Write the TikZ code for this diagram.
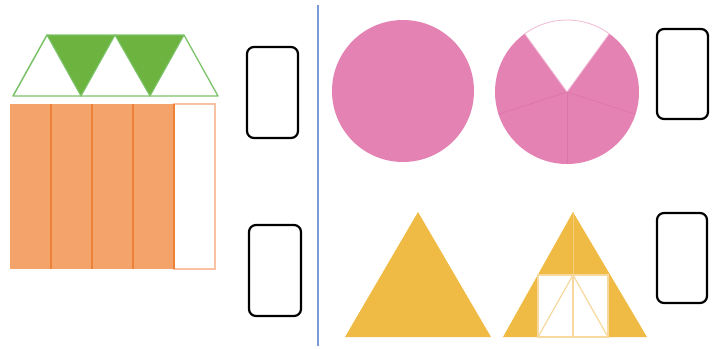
\documentclass[tikz,border=0pt]{standalone}
\begin{document}
\begin{tikzpicture}[x=1pt,y=-1pt]
\definecolor{grn}{HTML}{6DB33F}
\definecolor{grnline}{HTML}{7CC36A}
\definecolor{org}{HTML}{F4A36A}
\definecolor{orgline}{HTML}{EC8238}
\definecolor{orglight}{HTML}{F9C3A3}
\definecolor{pnk}{HTML}{E482B4}
\definecolor{pnkline}{HTML}{DC75A8}
\definecolor{pnklight}{HTML}{F2B9D4}
\definecolor{ylw}{HTML}{F0BB45}
\definecolor{ylwline}{HTML}{F7D9A0}
\definecolor{sep}{HTML}{7B9BD6}
\tikzset{ansbox/.style={draw=black,line width=2.2pt,rounded corners=7pt}}
\useasboundingbox (0,0) rectangle (720,348);
\fill[white] (0,0) rectangle (720,348);
% separator
\draw[sep,line width=1.3pt] (318,5) -- (318,346);
% green trapezoid
\fill[grn] (47,35) -- (115,35) -- (81,96) -- cycle;
\fill[grn] (115,35) -- (184,35) -- (150,96) -- cycle;
\draw[grnline,line width=1.3pt,line join=round] (47,35) -- (184,35) -- (218,96) -- (13,96) -- cycle;
\draw[grnline,line width=1.1pt] (13,96) -- (47,35) -- (81,96) -- (115,35) -- (150,96) -- (184,35);
% orange rectangle
\fill[org] (10,104) rectangle (174,269);
\draw[orglight,line width=1.3pt] (174,104) rectangle (215,269);
\foreach \x in {51,92,133,174}{\draw[orgline,line width=1.2pt] (\x,104) -- (\x,269);}
% answer boxes
\draw[ansbox] (247,47) rectangle (298,138);
\draw[ansbox] (249,225) rectangle (301,316);
\draw[ansbox] (657,29) rectangle (708,119);
\draw[ansbox] (657,213) rectangle (707,303);
% circles
\fill[pnk] (403,91) circle (71);
\fill[pnk] (567,92) -- ++(-54:72) arc[start angle=-54,end angle=234,radius=72] -- cycle;
\draw[pnklight,line width=0.8pt] (567,92) -- ++(234:72) arc[start angle=234,end angle=306,radius=72] -- cycle;
\foreach \a in {18,90,162}{\draw[pnkline,line width=0.6pt] (567,92) -- ++(\a:72);}
% triangles
\fill[ylw] (418,212) -- (491,337) -- (345,337) -- cycle;
\fill[ylw] (573,212) -- (647,337) -- (503,337) -- cycle;
\draw[ylwline!60!ylw,line width=0.8pt] (573,212) -- (573,275);
\fill[white] (538,275) rectangle (608,337);
\draw[ylwline,line width=1.2pt] (538,275) rectangle (608,337);
\draw[ylwline,line width=1.2pt] (573,275) -- (573,337);
\draw[ylwline,line width=1.2pt] (538,337) -- (573,275) -- (608,337);
\end{tikzpicture}
\end{document}
